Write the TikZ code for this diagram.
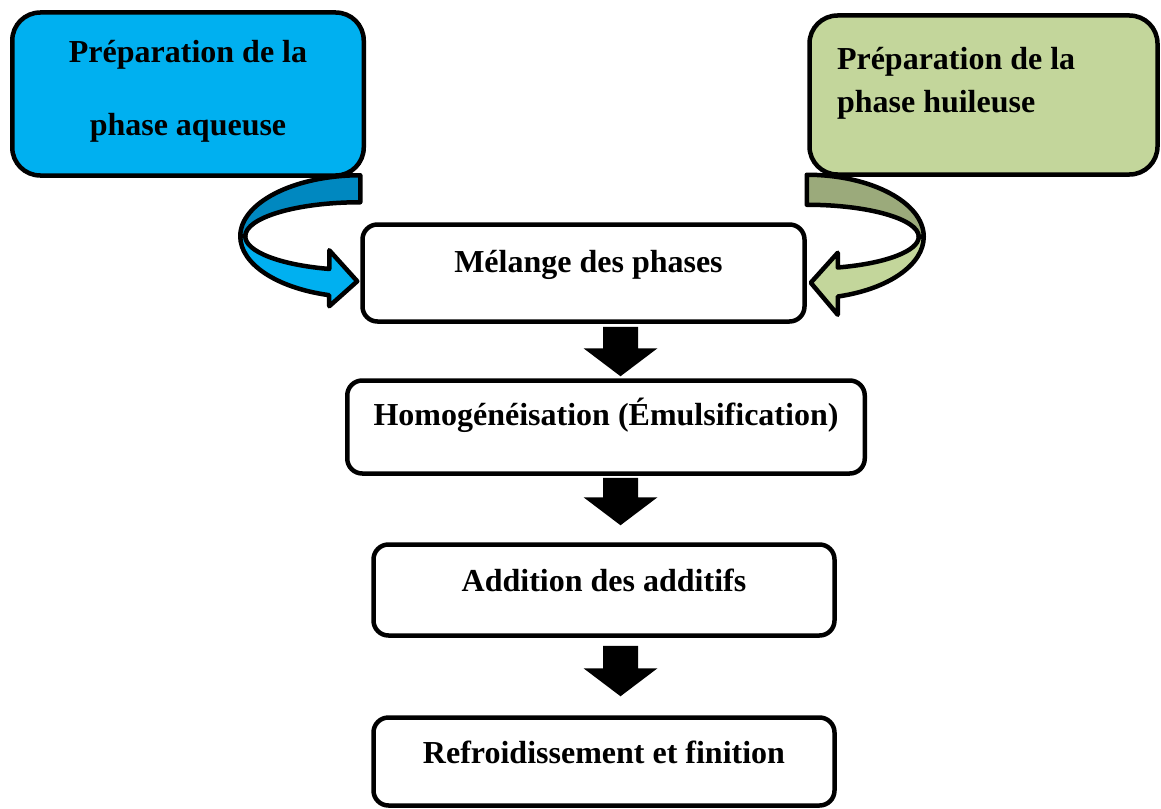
\documentclass[tikz,border=0pt]{standalone}
\usepackage{fontspec}
\setmainfont{Liberation Serif}
\usepackage{tikz}
\usetikzlibrary{calc, backgrounds}
\definecolor{AQUA}{HTML}{00B0F0}
\definecolor{AQUADARK}{HTML}{0088C0}
\definecolor{OLIVE}{HTML}{C3D69B}
\definecolor{OLIVEDARK}{HTML}{9BAA7B}
\definecolor{BLACK}{HTML}{000000}
\tikzset{
  phasebox/.style={draw=BLACK, line width=4.5pt, rounded corners=28pt, inner sep=0pt},
  stepbox/.style={draw=BLACK, line width=4.5pt, rounded corners=15pt, fill=white, inner sep=0pt,
    font=\fontsize{32}{38}\selectfont\bfseries, text height=24pt, text depth=28pt},
  ribbon/.style={draw=BLACK, line width=4.5pt, line join=round},
  downarrow/.style={fill=BLACK, to path={
    ($(\tikztostart)+(-17.5,0)$) -- ($(\tikztotarget)+(-17.5,-28)$) -- ($(\tikztotarget)+(-37,-28)$)
    -- (\tikztotarget) -- ($(\tikztotarget)+(37,-28)$) -- ($(\tikztotarget)+(17.5,-28)$)
    -- ($(\tikztostart)+(17.5,0)$) -- cycle}},
}
\begin{document}
\begin{tikzpicture}[x=1pt, y=-1pt]
    \useasboundingbox (0,0) rectangle (1161,808);
    %
    \node[phasebox, fill=AQUA, minimum width=351.5pt, minimum height=163pt] (aqueuse) at (188,94)
        {\parbox[c][108pt][t]{340pt}{\centering\fontsize{32}{73}\selectfont\bfseries Préparation de la\\phase aqueuse}};
    \node[phasebox, fill=OLIVE, minimum width=348pt, minimum height=159pt] (huileuse) at (983.5,95)
        {\parbox[c][96pt][t]{293pt}{\raggedright\fontsize{32}{43}\selectfont\bfseries Préparation de la\\phase huileuse}};
    %
    \node[stepbox, minimum width=442pt, minimum height=97pt, text depth=25pt] (melange) at (583.5,273) {\hspace*{10pt}Mélange des phases};
    \node[stepbox, minimum width=517.5pt, minimum height=93pt] (homog) at (606,427) {Homogénéisation (Émulsification)};
    \node[stepbox, minimum width=461pt, minimum height=91pt, text height=28pt, text depth=26pt] (addition) at (604,590) {Addition des additifs};
    \node[stepbox, minimum width=461pt, minimum height=88pt, text height=28pt, text depth=25pt] (refroid) at (604,761.5) {Refroidissement et finition};
    %
    \coordinate (lpivot) at ($(melange.north west)+(0,14)$);
    \coordinate (rpivot) at ($(melange.north east)+(0,14.5)$);
    \begin{scope}[on background layer]
        \begin{scope}[shift={(lpivot)}]
            \filldraw[ribbon, fill=AQUADARK] (0,-61) .. controls (-66,-61) and (-120,-33.5) .. (-120,0)
                -- (-115,0) .. controls (-115,-18.7) and (-63.25,-34) .. (0,-34) -- cycle;
            \filldraw[ribbon, fill=AQUA] (-120,0) arc[start angle=180, end angle=254.97, x radius=120pt, y radius=61pt]
                -- (-31,70) -- (-3,45) -- (-31,14) -- (-31,32.7)
                arc[start angle=254.36, end angle=180, x radius=115pt, y radius=34pt] -- cycle;
        \end{scope}
        \begin{scope}[shift={(rpivot)}]
            \filldraw[ribbon, fill=OLIVEDARK] (0,-62) .. controls (64.35,-62) and (117,-34.1) .. (117,0)
                -- (112,0) .. controls (112,-17.6) and (61.6,-32) .. (0,-32) -- cycle;
            \filldraw[ribbon, fill=OLIVE] (117,0) arc[start angle=0, end angle=-74.64, x radius=117pt, y radius=62pt]
                -- (31,78) -- (4,46) -- (31,16) -- (31,30.75)
                arc[start angle=-73.93, end angle=0, x radius=112pt, y radius=32pt] -- cycle;
        \end{scope}
    \end{scope}
    %
    \coordinate (axis) at (620.5,0);
    \coordinate (a1s) at ($(melange.south -| axis)+(0,3)$);
    \coordinate (a1e) at ($(homog.north -| axis)+(0,-2)$);
    \coordinate (a2s) at ($(homog.south -| axis)+(0,2)$);
    \coordinate (a2e) at ($(addition.north -| axis)+(0,-17)$);
    \coordinate (a3s) at ($(addition.south -| axis)+(0,8)$);
    \coordinate (a3e) at ($(refroid.north -| axis)+(0,-19)$);
    \path[downarrow] (a1s) to (a1e);
    \path[downarrow] (a2s) to (a2e);
    \path[downarrow] (a3s) to (a3e);
\end{tikzpicture}
\end{document}
